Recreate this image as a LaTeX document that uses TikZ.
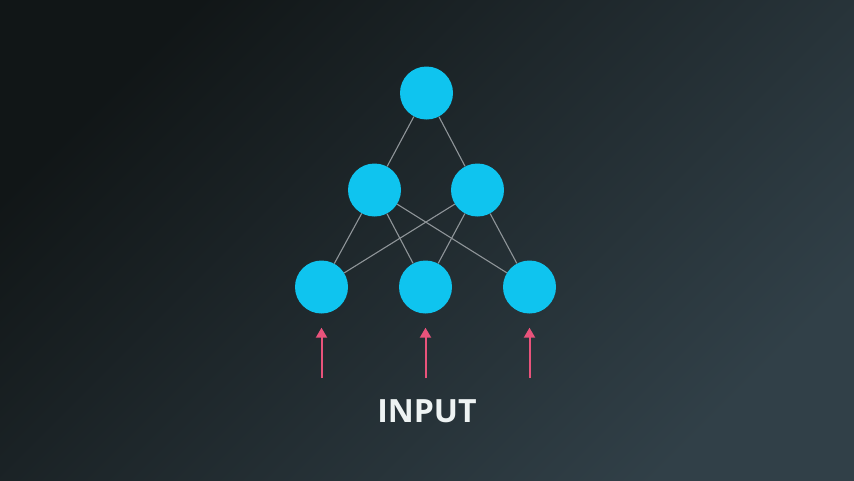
\documentclass[tikz,border=0pt]{standalone}
\usepackage{fontspec}
\setmainfont{Open Sans}
\usetikzlibrary{arrows.meta}

\definecolor{bgdark}{HTML}{111617}
\definecolor{bglight}{HTML}{314048}
\definecolor{neuron}{HTML}{0FC4EF}
\definecolor{wire}{HTML}{8F9599}
\definecolor{signal}{HTML}{E9537B}
\definecolor{caption}{HTML}{EEF3F3}

\begin{document}
\begin{tikzpicture}[x=1pt,y=-1pt,
  unit/.style={circle,fill=neuron,inner sep=0pt,minimum size=53pt},
  link/.style={wire,line width=1.1pt},
  feed/.style={signal,line width=2pt,-{Triangle[length=10pt,width=11pt]},shorten >=14pt}]
\shade[left color=bgdark,right color=bglight,shading angle=45] (0,0) rectangle (854,480);

% layers
\node[unit] (top)  at (426.5, 93) {};
\node[unit] (hidL) at (374.5,190) {};
\node[unit] (hidR) at (477.5,190) {};
\node[unit] (inL)  at (321.5,287) {};
\node[unit] (inM)  at (425.5,287) {};
\node[unit] (inR)  at (529.5,287) {};

\foreach \h in {hidL,hidR} {
  \draw[link] (top) -- (\h);
  \foreach \i in {inL,inM,inR}
    \draw[link] (\h) -- (\i);
}

% inputs
\coordinate (srcL) at (321.5,378);
\coordinate (srcM) at (425.5,378);
\coordinate (srcR) at (529.5,378);
\draw[feed] (srcL) -- (inL.south);
\draw[feed] (srcM) -- (inM.south);
\draw[feed] (srcR) -- (inR.south);

\node[text=caption,font=\bfseries\fontsize{32}{36}\selectfont] (input) at (427,411.5) {INPUT};
\end{tikzpicture}
\end{document}
